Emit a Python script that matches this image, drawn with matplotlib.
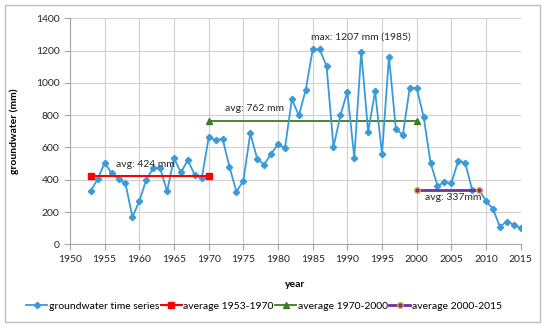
import matplotlib
matplotlib.use("Agg")
import matplotlib.pyplot as plt
from matplotlib.patches import Rectangle

years = list(range(1953, 2016))
groundwater = [332, 404, 505, 439, 404, 377, 169, 268, 400, 472, 472, 328, 532, 445, 522, 427, 408,
               662, 645, 654, 480, 326, 394, 687, 530, 493, 561, 619, 596, 899, 798, 957,
               1207, 1207, 1105, 602, 800, 944, 536, 1194, 695, 948, 557, 1163, 713, 678, 971, 967,
               790, 505, 363, 384, 379, 519, 503, 338, 338, 268, 219, 110, 141, 122, 99]

avg1_years = [1953, 1970]
avg1_vals = [424, 424]
avg2_years = [1970, 2000]
avg2_vals = [762, 762]
avg3_years = [2000, 2009]
avg3_vals = [337, 337]

labels = ["groundwater time series", "average 1953-1970", "average 1970-2000", "average 2000-2015"]
x_ticks = list(range(1950, 2020, 5))
y_ticks = list(range(0, 1600, 200))

plt.rcParams['font.family'] = ['Lato', 'DejaVu Sans']

fig = plt.figure(figsize=(5.5, 3.3), dpi=100)
ax = fig.add_axes([70/550, 1 - 244.3/330, (520.7-70)/550, (244.3-18.3)/330])

fig.patches.append(Rectangle((5/550, 1 - 322/330), 535/550, 317/330, transform=fig.transFigure,
                             fill=False, edgecolor='#BFBFBF', linewidth=1.0))

blue = '#3A9BD8'
ax.plot(years, groundwater, color=blue, marker='D', markersize=3.2, linewidth=1.3,
        label=labels[0], zorder=3)
ax.plot(avg1_years, avg1_vals, color='#FF0000', marker='s', markersize=4.2, linewidth=1.5,
        label=labels[1], zorder=4)
ax.plot(avg2_years, avg2_vals, color='#3B7D23', marker='^', markersize=4.2, linewidth=1.3,
        label=labels[2], zorder=2)
ax.plot(avg3_years, avg3_vals, color='#7030A0', marker='o', markersize=4.0, linewidth=2.0,
        markeredgecolor='#F0A030', markerfacecolor='#7030A0', markeredgewidth=1.0,
        label=labels[3], zorder=4)

fs = 7.5
ax.text(1956.6, 497, "avg: 424 mm", fontsize=fs, va='center', ha='left', color='#262626')
ax.text(1972.3, 842, "avg: 762 mm", fontsize=fs, va='center', ha='left', color='#262626')
ax.text(1984.8, 1286, "max: 1207 mm (1985)", fontsize=fs, va='center', ha='left', color='#262626')
ax.text(2001.2, 291, "avg: 337mm", fontsize=fs, va='center', ha='left', color='#262626')

ax.set_xlim(1950, 2015)
ax.set_ylim(0, 1400)
ax.set_xticks(x_ticks)
ax.set_yticks(y_ticks)
ax.tick_params(labelsize=fs, colors='#262626', length=4, direction='out')
ax.tick_params(axis='both', color='#A6A6A6')
ax.grid(True, color='#D0D0D0', linewidth=0.8)
ax.set_axisbelow(True)
for s in ['top', 'right']:
    ax.spines[s].set_visible(False)
for s in ['left', 'bottom']:
    ax.spines[s].set_color('#A6A6A6')

ax.set_xlabel("year", fontsize=fs, fontweight='bold', labelpad=12)
ax.set_ylabel("groundwater (mm)", fontsize=fs, fontweight='bold', labelpad=12)

fig.legend(loc='center', bbox_to_anchor=(264/550, 1 - 306/330), ncol=4, frameon=False,
           fontsize=fs, handlelength=2.0, handletextpad=0.15, columnspacing=0.15,
           borderpad=0.2)

fig.savefig("out.png", dpi=100)
